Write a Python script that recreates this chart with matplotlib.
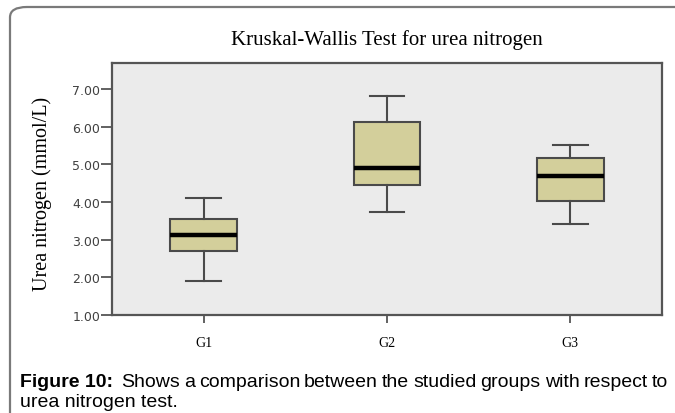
import matplotlib
matplotlib.use("Agg")
import matplotlib.pyplot as plt
from matplotlib.patches import FancyBboxPatch

groups = ["G1", "G2", "G3"]
q1 = [2.71, 4.46, 4.03]
med = [3.12, 4.90, 4.70]
q3 = [3.55, 6.12, 5.17]
whislo = [1.91, 3.73, 3.42]
whishi = [4.10, 6.82, 5.51]
yticks = [1.0, 2.0, 3.0, 4.0, 5.0, 6.0, 7.0]

title = "Kruskal-Wallis Test for urea nitrogen"
ylabel = "Urea nitrogen (mmol/L)"
cap_bold = "Figure 10:"
cap_line1 = "Shows a comparison between the studied groups with respect to"
cap_line2 = "urea nitrogen test."

W, H = 675, 414
fig = plt.figure(figsize=(W / 100, H / 100), dpi=100)
fig.patch.set_facecolor("white")

# outer rounded frame
frame = FancyBboxPatch((10 / W, -0.2), 1.2, (H - 8) / H + 0.2,
                       boxstyle="round,pad=0,rounding_size=0.025",
                       transform=fig.transFigure, fill=False,
                       edgecolor="#7a7a7a", linewidth=1.6, zorder=0)
fig.patches.append(frame)

ax = fig.add_axes([112 / W, (H - 316) / H, (662 - 112) / W, (316 - 64) / H])
ax.set_facecolor("#ebebeb")

stats = [dict(label=g, q1=a, med=m, q3=b, whislo=lo, whishi=hi, fliers=[])
         for g, a, m, b, lo, hi in zip(groups, q1, med, q3, whislo, whishi)]
ax.bxp(stats, positions=[1, 2, 3], widths=0.365, showfliers=False,
       patch_artist=True,
       boxprops=dict(facecolor="#d3cf9b", edgecolor="#4a4a4a", linewidth=1.5),
       medianprops=dict(color="black", linewidth=3.2),
       whiskerprops=dict(color="#4a4a4a", linewidth=1.5),
       capprops=dict(color="#4a4a4a", linewidth=1.5),
       capwidths=0.19)

ax.set_xlim(0.5, 3.5)
ax.set_ylim(1.0, 7.69)
ax.set_yticks(yticks)
ax.set_yticklabels([f"{v:.2f}" for v in yticks], family="DejaVu Sans",
                   fontsize=9, color="#404040")
ax.set_xticks([1, 2, 3])
ax.set_xticklabels(groups, family="Liberation Serif", fontsize=10, color="black")
ax.tick_params(axis="y", length=8, width=1.3, color="#555555", pad=0.5)
ax.tick_params(axis="x", length=6, width=1.3, color="#555555", pad=9)
for s in ax.spines.values():
    s.set_color("#555555")
    s.set_linewidth(1.6)

fig.text(387 / W, 1 - 40 / H, title,
         family="Liberation Serif", fontsize=15, ha="center", va="center")
fig.text(42 / W, 1 - 194 / H, ylabel, family="Liberation Serif",
         fontsize=14.5, rotation=90, ha="center", va="center")

# caption: first line justified between x=20 and x=668
fs = 14
renderer = fig.canvas.get_renderer()
x0, x1 = 20, 668
y1 = 1 - 387 / H
y2 = 1 - 407 / H
items = [(cap_bold, "bold")] + [(w, "normal") for w in cap_line1.split()]
texts = []
for w, wt in items:
    t = fig.text(0, y1, w, family="Liberation Sans", fontsize=fs,
                 fontweight=wt, ha="left", va="baseline")
    texts.append(t)
widths = [t.get_window_extent(renderer).width for t in texts]
extra = 4
gap = (x1 - x0 - sum(widths) - extra) / (len(texts) - 1)
x = x0
for i, (t, wd) in enumerate(zip(texts, widths)):
    t.set_x(x / W)
    x += wd + gap + (extra if i == 0 else 0)
fig.text(x0 / W, y2, cap_line2, family="Liberation Sans",
         fontsize=fs, ha="left", va="baseline")

fig.savefig("out.png", dpi=100)
